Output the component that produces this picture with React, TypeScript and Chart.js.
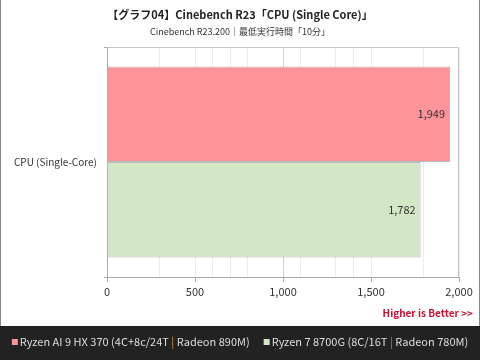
import { useEffect, useRef } from 'react';
import { Chart, registerables } from 'chart.js';

Chart.register(...registerables);

const titleText = '【グラフ04】Cinebench R23「CPU (Single Core)」';
const subtitleText = 'Cinebench R23.200｜最低実行時間「10分」';
const categories = ['CPU (Single-Core)'];
const seriesNames = [
  'Ryzen AI 9 HX 370 (4C+8c/24T | Radeon 890M)',
  'Ryzen 7 8700G (8C/16T | Radeon 780M)',
];
const ryzenAiValues = [1949];
const ryzen8700gValues = [1782];
const xGridValues = [0, 300, 500, 600, 700, 800, 1000, 1100, 1300, 1400, 1500, 1800, 2000];
const xLabelValues = [0, 500, 1000, 1500, 2000];
const noteText = 'Higher is Better >>';

const seriesColors = ['#ff939a', '#d3e6c5'];
const separatorColors = ['#e0902a', '#5a8fd0'];
const FONT = "'Noto Sans CJK JP', 'Noto Sans', sans-serif";

const drawPlugin = {
  id: 'customDraw',
  beforeDraw(chart: any) {
    const { ctx, width, height } = chart;
    ctx.save();
    ctx.fillStyle = '#ffffff';
    ctx.fillRect(0, 0, width, height);
    ctx.fillStyle = '#222222';
    ctx.fillRect(0, 326, width, height - 326);
    ctx.strokeStyle = '#888888';
    ctx.lineWidth = 1;
    ctx.beginPath();
    ctx.moveTo(0.5, 0);
    ctx.lineTo(0.5, 326);
    ctx.moveTo(width - 0.5, 0);
    ctx.lineTo(width - 0.5, 326);
    ctx.stroke();
    ctx.restore();
  },
  afterDatasetsDraw(chart: any) {
    const { ctx } = chart;
    ctx.save();
    ctx.font = `11px ${FONT}`;
    ctx.fillStyle = '#333333';
    ctx.textAlign = 'right';
    ctx.textBaseline = 'middle';
    chart.data.datasets.forEach((ds: any, i: number) => {
      const meta = chart.getDatasetMeta(i);
      meta.data.forEach((el: any, j: number) => {
        const v = ds.data[j];
        ctx.fillText(v.toLocaleString('en-US'), el.x - 5, el.y);
      });
    });
    const a = chart.chartArea;
    ctx.strokeStyle = '#c4c4c4';
    ctx.lineWidth = 1;
    ctx.beginPath();
    ctx.moveTo(a.left, a.top + 0.5);
    ctx.lineTo(a.right - 0.5, a.top + 0.5);
    ctx.lineTo(a.right - 0.5, a.bottom);
    ctx.stroke();
    ctx.restore();
  },
  afterDraw(chart: any) {
    const { ctx, width } = chart;
    ctx.save();
    ctx.textBaseline = 'middle';
    ctx.textAlign = 'center';
    ctx.fillStyle = '#222222';
    ctx.font = `bold 11px ${FONT}`;
    ctx.fillText(titleText, width / 2, 15);
    ctx.font = `9px ${FONT}`;
    ctx.fillStyle = '#333333';
    ctx.fillText(subtitleText, width / 2, 32);

    ctx.textAlign = 'right';
    ctx.font = `bold 10px ${FONT}`;
    ctx.fillStyle = '#cc1133';
    ctx.fillText(noteText, 473, 313);

    ctx.font = `11px ${FONT}`;
    ctx.textAlign = 'left';
    const box = 6;
    const gapBox = 2;
    const gapItem = 14;
    const widths = seriesNames.map((n) => ctx.measureText(n).width);
    const total = widths.reduce((s, w) => s + w + box + gapBox, 0) + gapItem * (seriesNames.length - 1);
    let x = width / 2 - total / 2;
    const cy = 342;
    seriesNames.forEach((name, i) => {
      ctx.fillStyle = seriesColors[i];
      ctx.fillRect(x, cy - 3, box, box);
      let tx = x + box + gapBox;
      const parts = name.split('|');
      parts.forEach((p, k) => {
        ctx.fillStyle = '#dddddd';
        ctx.fillText(p, tx, cy);
        tx += ctx.measureText(p).width;
        if (k < parts.length - 1) {
          ctx.fillStyle = separatorColors[i];
          ctx.fillText('|', tx, cy);
          tx += ctx.measureText('|').width;
        }
      });
      x += box + gapBox + widths[i] + gapItem;
    });
    ctx.restore();
  },
};

export default function App() {
  const ref = useRef<HTMLCanvasElement | null>(null);
  useEffect(() => {
    if (!ref.current) return;
    const chart = new Chart(ref.current, {
      type: 'bar',
      data: {
        labels: categories,
        datasets: [
          {
            label: seriesNames[0],
            data: ryzenAiValues,
            backgroundColor: seriesColors[0],
            borderColor: '#bbbbbb',
            borderWidth: 1,
            categoryPercentage: 0.83,
            barPercentage: 1.0,
          },
          {
            label: seriesNames[1],
            data: ryzen8700gValues,
            backgroundColor: seriesColors[1],
            borderColor: '#bbbbbb',
            borderWidth: 1,
            categoryPercentage: 0.83,
            barPercentage: 1.0,
          },
        ],
      },
      options: {
        indexAxis: 'y',
        responsive: false,
        animation: false,
        layout: { padding: { top: 47, right: 21, bottom: 34, left: 0 } },
        plugins: {
          legend: { display: false },
          title: { display: false },
          tooltip: { enabled: false },
        },
        scales: {
          x: {
            min: 0,
            max: 2000,
            afterFit(s: any) {
              s.height = 49;
            },
            afterBuildTicks(s: any) {
              s.ticks = xGridValues.map((v) => ({ value: v }));
            },
            ticks: {
              autoSkip: false,
              maxRotation: 0,
              padding: 3,
              color: '#333333',
              font: { size: 11, family: FONT },
              callback: (v: any) => (xLabelValues.includes(Number(v)) ? Number(v).toLocaleString('en-US') : ''),
            },
            grid: {
              color: (c: any) => (c.tick && c.tick.value === 1000 ? '#d0d0d0' : '#ececec'),
              tickColor: (c: any) => (c.tick && xLabelValues.includes(c.tick.value) ? '#aaaaaa' : 'rgba(0,0,0,0)'),
              tickLength: 5,
            },
            border: { color: '#aaaaaa' },
          },
          y: {
            afterFit(s: any) {
              s.width = 107;
            },
            ticks: {
              padding: 7,
              color: '#333333',
              font: { size: 10, family: FONT },
            },
            grid: { drawOnChartArea: false, tickLength: 3, color: '#aaaaaa' },
            border: { color: '#aaaaaa' },
          },
        },
      },
      plugins: [drawPlugin],
    });
    return () => chart.destroy();
  }, []);
  return (
    <div style={{ position: 'absolute', left: 0, top: 0, width: 480, height: 360 }}>
      <canvas ref={ref} width={480} height={360} style={{ width: 480, height: 360, display: 'block' }} />
    </div>
  );
}
